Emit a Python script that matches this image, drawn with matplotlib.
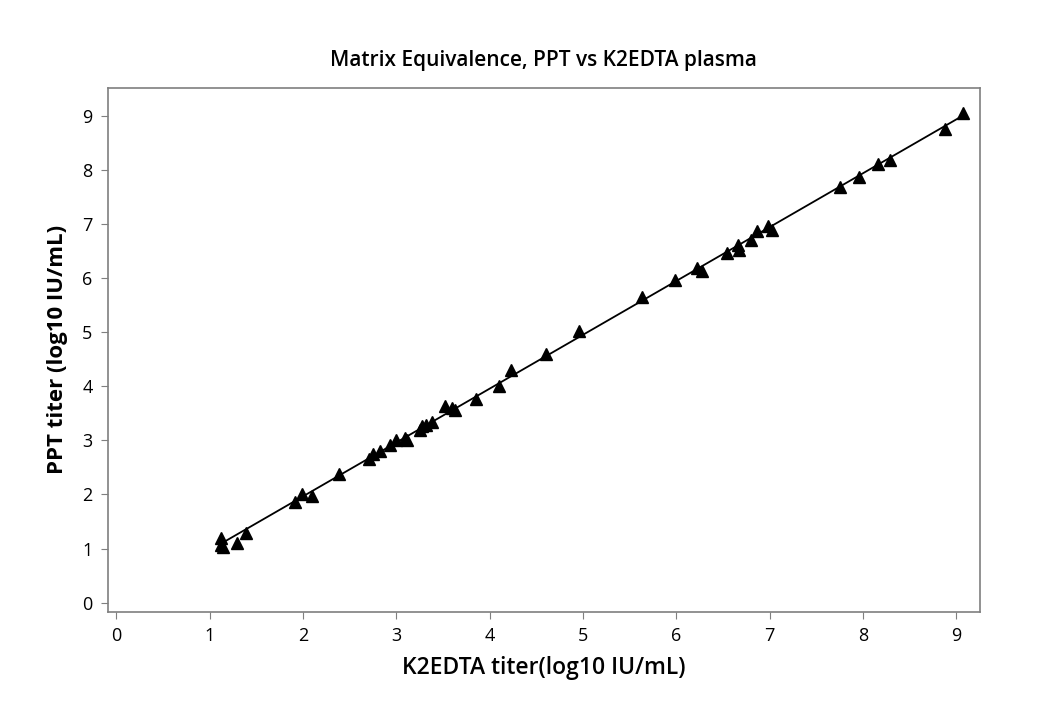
import numpy as np
import matplotlib
matplotlib.use("Agg")
import matplotlib.pyplot as plt

plt.rcParams['font.family'] = ['Open Sans', 'DejaVu Sans']

# K2EDTA titer (x) vs PPT titer (y), log10 IU/mL
k2edta = [1.12, 1.12, 1.14, 1.29, 1.39, 1.92, 1.99, 2.10, 2.39, 2.71, 2.75, 2.82,
          2.93, 3.00, 3.09, 3.11, 3.25, 3.27, 3.32, 3.38, 3.52, 3.63, 3.60, 3.85,
          4.10, 4.23, 4.60, 4.96, 5.63, 5.98, 6.22, 6.27, 6.54, 6.66, 6.67, 6.80,
          6.86, 6.98, 7.02, 7.75, 7.96, 8.16, 8.29, 8.88, 9.07]
ppt = [1.20, 1.07, 1.02, 1.10, 1.28, 1.87, 2.00, 1.98, 2.38, 2.66, 2.74, 2.80,
       2.92, 3.01, 3.04, 3.01, 3.20, 3.26, 3.29, 3.35, 3.63, 3.57, 3.60, 3.77,
       4.01, 4.31, 4.60, 5.03, 5.65, 5.96, 6.19, 6.13, 6.46, 6.62, 6.53, 6.71,
       6.87, 6.96, 6.89, 7.68, 7.88, 8.12, 8.19, 8.76, 9.06]

x = np.array(k2edta)
y = np.array(ppt)
# fitted line, drawn over the range of the data
slope, intercept = np.polyfit(x, y, 1)
xl = np.array([x.min(), x.max()])

fig = plt.figure(figsize=(10.57, 7.04), dpi=100)
ax = fig.add_axes([0.102, 0.131, 0.825, 0.744])

ax.plot(xl, slope * xl + intercept, color='black', lw=1.3, zorder=2)
ax.plot(x, y, linestyle='none', marker='^', color='black', markersize=8.5, zorder=3)

ax.set_xlim(-0.09, 9.25)
ax.set_ylim(-0.17, 9.52)
ax.set_xticks(range(10))
ax.set_yticks(range(10))

for s in ax.spines.values():
    s.set_color('#7f7f7f')
    s.set_linewidth(1.2)
ax.tick_params(direction='out', length=5, color='#7f7f7f', labelsize=13, pad=6)

ax.set_title('Matrix Equivalence, PPT vs K2EDTA plasma', fontsize=15,
             fontweight='semibold', pad=16)
ax.set_xlabel('K2EDTA titer(log10 IU/mL)', fontsize=16.5, fontweight='semibold', labelpad=8)
ax.set_ylabel('PPT titer (log10 IU/mL)', fontsize=16, fontweight='bold', labelpad=10)

fig.savefig('out.png', dpi=100)
